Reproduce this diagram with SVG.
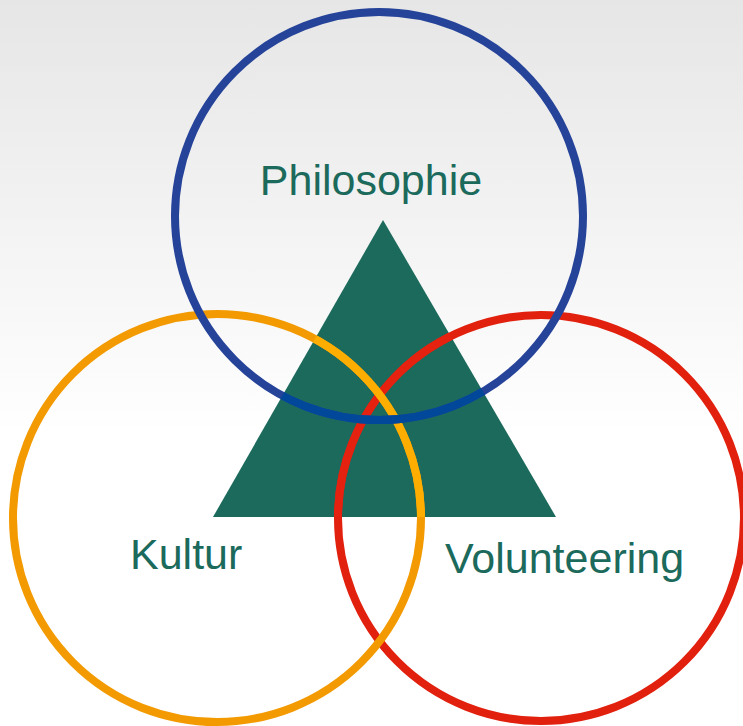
<svg xmlns="http://www.w3.org/2000/svg" width="743" height="726" viewBox="0 0 743 726">
<style>
.ring{fill:none;stroke-width:8}
.lbl{font-family:"Liberation Sans",Arial,sans-serif;font-size:43px;fill:#1b6a5c}
</style>
<defs>
<linearGradient id="bg" x1="0" y1="0" x2="0" y2="1">
<stop offset="0" stop-color="#e6e6e6"/>
<stop offset="0.6" stop-color="#ffffff"/>
<stop offset="1" stop-color="#ffffff"/>
</linearGradient>
<clipPath id="tri"><polygon points="383,220 213,517 556,517"/></clipPath>
</defs>
<rect width="743" height="726" fill="url(#bg)"/>
<g id="triangle"><polygon points="383,220 213,517 556,517" fill="#1b6a5c"/></g>
<g id="volunteering">
<circle class="ring" cx="541" cy="518" r="203" stroke="#e2200e"/>
<circle class="ring" cx="541" cy="518" r="203" stroke="#e52210" clip-path="url(#tri)"/>
<text class="lbl" x="445" y="573">Volunteering</text>
</g>
<g id="kultur">
<circle class="ring" cx="217" cy="518" r="204" stroke="#f39a00"/>
<circle class="ring" cx="217" cy="518" r="204" stroke="#ffae00" clip-path="url(#tri)"/>
<text class="lbl" x="130" y="569">Kultur</text>
</g>
<g id="philosophie">
<circle class="ring" cx="379" cy="216" r="204" stroke="#26439a"/>
<circle class="ring" cx="379" cy="216" r="204" stroke="#02489a" clip-path="url(#tri)"/>
<text class="lbl" x="371" y="195" text-anchor="middle">Philosophie</text>
</g>
<g id="connectors"/>
</svg>
